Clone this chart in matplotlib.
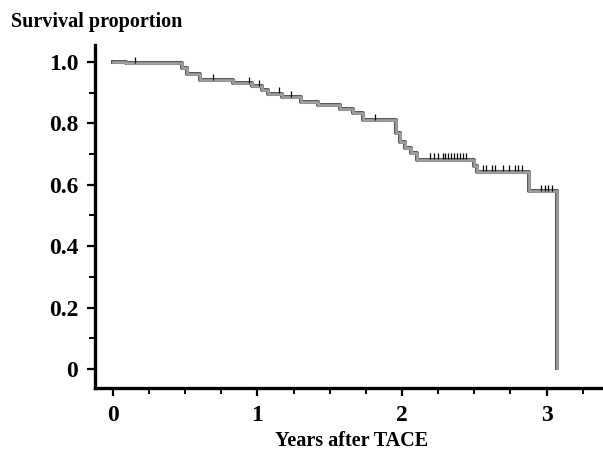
import matplotlib
matplotlib.use('Agg')
import matplotlib.pyplot as plt
import matplotlib.patheffects as pe
import numpy as np

# Kaplan-Meier steps: event times (years) and survival after each event
event_times = [0.094, 0.48, 0.51, 0.60, 0.83, 0.96, 1.03, 1.07, 1.17, 1.30, 1.42,
               1.57, 1.66, 1.73, 1.96, 1.985, 2.02, 2.06, 2.10, 2.14, 2.50, 2.52,
               2.88, 3.075]
survival = [0.995, 0.979, 0.96, 0.94, 0.93, 0.92, 0.909, 0.896, 0.885, 0.871, 0.86,
            0.847, 0.833, 0.811, 0.767, 0.74, 0.719, 0.702, 0.681, 0.681, 0.66, 0.643,
            0.578, 0.003]
# censored observations (years)
censor_times = [0.15, 0.69, 0.94, 1.01, 1.15, 1.23, 1.81, 2.19, 2.22, 2.25, 2.28,
                2.30, 2.32, 2.34, 2.36, 2.38, 2.40, 2.42, 2.44, 2.56, 2.58, 2.62,
                2.64, 2.70, 2.74, 2.78, 2.80, 2.83, 2.96, 2.99, 3.01, 3.04]

x_ticks = [0, 1, 2, 3]
y_ticks = [0, 0.2, 0.4, 0.6, 0.8, 1.0]
y_labels = ['0', '0.2', '0.4', '0.6', '0.8', '1.0']

plt.rcParams['font.family'] = 'Liberation Serif'
plt.rcParams['font.weight'] = 'bold'

fig = plt.figure(figsize=(6.03, 4.51), dpi=100)
ax = fig.add_axes([0.1575, 0.1397, 0.8425, 0.7605])

# step curve
xs = [0] + event_times
ys = [1.0] + survival
ax.step(xs, ys, where='post', color='#a0a0a0', linewidth=1.9,
        path_effects=[pe.Stroke(linewidth=2.9, foreground='#5a5a5a'), pe.Normal()],
        zorder=2)

# censor ticks
def surv_at(t):
    s = 1.0
    for et, sv in zip(event_times, survival):
        if et <= t:
            s = sv
    return s

cs = [surv_at(t) + 0.011 for t in censor_times]
ax.plot(censor_times, cs, linestyle='none', marker='|', markersize=5,
        markeredgewidth=0.9, color='black', zorder=3)

ax.set_xlim(-0.124, 3.39)
ax.set_ylim(-0.062, 1.055)

ax.set_xticks(x_ticks)
ax.set_xticks(np.arange(0, 3.5, 0.25), minor=True)
ax.set_yticks(y_ticks)
ax.set_yticklabels(y_labels)
ax.set_yticks(np.arange(0, 1.05, 0.1), minor=True)

for s in ['top', 'right']:
    ax.spines[s].set_visible(False)
for s in ['left', 'bottom']:
    ax.spines[s].set_linewidth(2.4)

ax.tick_params(axis='both', which='major', direction='out', length=6, width=1.6,
               labelsize=17, pad=6)
ax.tick_params(axis='both', which='minor', direction='out', length=4, width=1.4)

fig.text(0.018, 0.952, 'Survival proportion', fontsize=14.5, fontweight='bold',
         ha='left', va='center')
fig.text(0.583, 0.022, 'Years after TACE', fontsize=14.5, fontweight='bold',
         ha='center', va='center')

fig.savefig('out.png', dpi=100)
